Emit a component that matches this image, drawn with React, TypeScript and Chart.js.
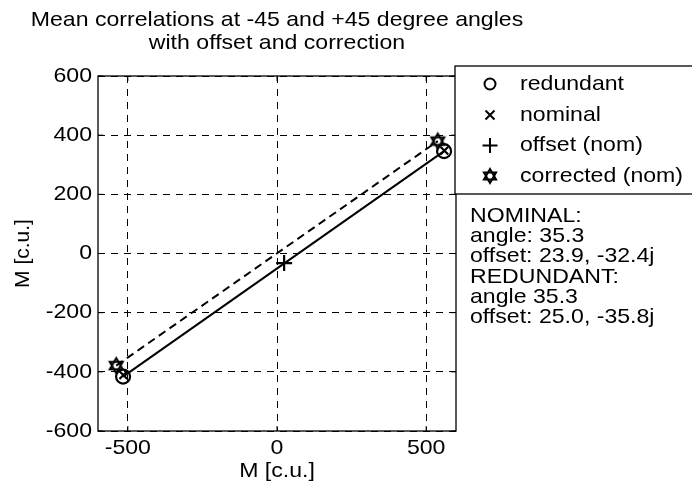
import React, { useEffect, useRef } from "react";
import { Chart, registerables } from "chart.js";
Chart.register(...registerables);

const xTicks = [-500, 0, 500];
const yTicks = [-600, -400, -200, 0, 200, 400, 600];
const xRange = [-600, 600];
const yRange = [-600, 600];

const redundantX = [-516, 560];
const redundantY = [-416, 346];
const nominalX = [-515, 561];
const nominalY = [-411, 348];
const offsetX = [23.9];
const offsetY = [-32.4];
const correctedX = [-539, 539];
const correctedY = [-379, 380];

const legendLabels = ["redundant", "nominal", "offset (nom)", "corrected (nom)"];
const titleLines = ["Mean correlations at -45 and +45 degree angles", "with offset and correction"];
const noteLines = [
  "NOMINAL:",
  "angle: 35.3",
  "offset: 23.9, -32.4j",
  "REDUNDANT:",
  "angle 35.3",
  "offset: 25.0, -35.8j",
];
const axisTitle = "M [c.u.]";

const FONT = '21px "Liberation Sans", Arial, sans-serif';
const SX = 1.1;

function hexPath(ctx: CanvasRenderingContext2D, cx: number, cy: number, r: number) {
  const tri = (start: number) => {
    ctx.beginPath();
    for (let i = 0; i < 3; i++) {
      const a = ((start + i * 120) * Math.PI) / 180;
      const px = cx + r * Math.cos(a);
      const py = cy + r * Math.sin(a);
      if (i === 0) ctx.moveTo(px, py);
      else ctx.lineTo(px, py);
    }
    ctx.closePath();
    ctx.stroke();
  };
  tri(-90);
  tri(90);
}

function makeHex(r: number, lw: number) {
  const c = document.createElement("canvas");
  const s = Math.ceil(2 * r + 2 * lw + 2);
  c.width = s;
  c.height = s;
  const g = c.getContext("2d")!;
  g.strokeStyle = "#000";
  g.lineWidth = lw;
  g.lineJoin = "miter";
  hexPath(g, s / 2, s / 2, r);
  return c;
}

function txt(ctx: CanvasRenderingContext2D, s: string, x: number, y: number, align: CanvasTextAlign) {
  ctx.save();
  ctx.translate(x, y);
  ctx.scale(SX, 1);
  ctx.textAlign = align;
  ctx.textBaseline = "middle";
  ctx.fillText(s, 0, 0);
  ctx.restore();
}

const decor = {
  id: "decor",
  afterDraw(chart: any) {
    const ctx: CanvasRenderingContext2D = chart.ctx;
    const ca = chart.chartArea;
    const xs = chart.scales.x;
    const ys = chart.scales.y;
    ctx.save();
    ctx.strokeStyle = "#000";
    ctx.fillStyle = "#000";
    ctx.setLineDash([]);
    ctx.lineWidth = 1.3;
    ctx.strokeRect(ca.left, ca.top, ca.right - ca.left, ca.bottom - ca.top);
    ctx.lineWidth = 1;
    ctx.beginPath();
    xTicks.forEach((v) => {
      const p = xs.getPixelForValue(v);
      ctx.moveTo(p, ca.bottom);
      ctx.lineTo(p, ca.bottom - 5);
      ctx.moveTo(p, ca.top);
      ctx.lineTo(p, ca.top + 5);
    });
    yTicks.forEach((v) => {
      const p = ys.getPixelForValue(v);
      ctx.moveTo(ca.left, p);
      ctx.lineTo(ca.left + 5, p);
      ctx.moveTo(ca.right, p);
      ctx.lineTo(ca.right - 5, p);
    });
    ctx.stroke();

    ctx.font = FONT;
    xTicks.forEach((v) => txt(ctx, String(v), xs.getPixelForValue(v), ca.bottom + 17, "center"));
    yTicks.forEach((v) => txt(ctx, String(v), ca.left - 6, ys.getPixelForValue(v), "right"));
    const cx = (ca.left + ca.right) / 2;
    txt(ctx, axisTitle, cx, ca.bottom + 40, "center");
    ctx.save();
    ctx.translate(23, (ca.top + ca.bottom) / 2);
    ctx.rotate(-Math.PI / 2);
    ctx.textAlign = "center";
    ctx.textBaseline = "middle";
    ctx.fillText(axisTitle, 0, 0);
    ctx.restore();

    txt(ctx, titleLines[0], cx, 20, "center");
    txt(ctx, titleLines[1], cx, 43, "center");

    // legend box
    const lx = 455, ly = 66, lb = 194;
    ctx.fillStyle = "#fff";
    ctx.fillRect(lx, ly, 692 - lx + 10, lb - ly);
    ctx.lineWidth = 1.3;
    ctx.strokeRect(lx, ly, 692 - lx + 10, lb - ly);
    ctx.fillStyle = "#000";
    const rows = [84, 115, 145.5, 176];
    const mx = 490;
    ctx.lineWidth = 2;
    ctx.beginPath();
    ctx.arc(mx, rows[0], 5.5, 0, Math.PI * 2);
    ctx.stroke();
    ctx.beginPath();
    ctx.moveTo(mx - 4.5, rows[1] - 4.5);
    ctx.lineTo(mx + 4.5, rows[1] + 4.5);
    ctx.moveTo(mx + 4.5, rows[1] - 4.5);
    ctx.lineTo(mx - 4.5, rows[1] + 4.5);
    ctx.stroke();
    ctx.beginPath();
    ctx.moveTo(mx - 7.5, rows[2]);
    ctx.lineTo(mx + 7.5, rows[2]);
    ctx.moveTo(mx, rows[2] - 7.5);
    ctx.lineTo(mx, rows[2] + 7.5);
    ctx.stroke();
    ctx.lineWidth = 2;
    hexPath(ctx, mx, rows[3], 7);
    legendLabels.forEach((l, i) => txt(ctx, l, 520, rows[i], "left"));

    noteLines.forEach((l, i) => txt(ctx, l, 470, 216 + i * 20.3, "left"));
    ctx.restore();
  },
};

export default function App() {
  const ref = useRef<HTMLCanvasElement>(null);
  useEffect(() => {
    const hex = makeHex(7.5, 2);
    const pts = (xs: number[], ys: number[]) => xs.map((x, i) => ({ x, y: ys[i] }));
    const chart = new Chart(ref.current!, {
      type: "scatter",
      data: {
        datasets: [
          {
            data: pts(redundantX, redundantY),
            showLine: true,
            borderColor: "#000",
            borderWidth: 2,
            pointStyle: "circle",
            pointRadius: 7,
            pointBorderWidth: 2.2,
            pointBackgroundColor: "rgba(0,0,0,0)",
            pointBorderColor: "#000",
          },
          {
            data: pts(nominalX, nominalY),
            showLine: false,
            pointStyle: "crossRot",
            pointRadius: 5.5,
            pointBorderWidth: 2.2,
            pointBorderColor: "#000",
          },
          {
            data: pts(offsetX, offsetY),
            showLine: false,
            pointStyle: "cross",
            pointRadius: 8,
            pointBorderWidth: 2.2,
            pointBorderColor: "#000",
          },
          {
            data: pts(correctedX, correctedY),
            showLine: true,
            borderColor: "#000",
            borderWidth: 2,
            borderDash: [8, 5],
            pointStyle: hex as any,
            pointRadius: 7,
          },
        ],
      },
      options: {
        responsive: false,
        animation: false,
        devicePixelRatio: 1,
        layout: { padding: { left: 98, right: 236, top: 76, bottom: 55 } },
        plugins: { legend: { display: false }, title: { display: false }, tooltip: { enabled: false } },
        scales: {
          x: {
            type: "linear",
            min: xRange[0],
            max: xRange[1],
            ticks: { display: false },
            grid: { color: "#000", lineWidth: 1, drawTicks: false },
            border: { display: false, dash: [7, 6] },
            afterFit: (s: any) => {
              s.height = 0;
            },
            afterBuildTicks: (s: any) => {
              s.ticks = xTicks.map((v) => ({ value: v }));
            },
          },
          y: {
            type: "linear",
            min: yRange[0],
            max: yRange[1],
            ticks: { display: false },
            grid: { color: "#000", lineWidth: 1, drawTicks: false },
            border: { display: false, dash: [7, 6] },
            afterFit: (s: any) => {
              s.width = 0;
            },
            afterBuildTicks: (s: any) => {
              s.ticks = yTicks.map((v) => ({ value: v }));
            },
          },
        },
      },
      plugins: [decor],
    });
    return () => chart.destroy();
  }, []);
  return (
    <canvas
      ref={ref}
      width={692}
      height={486}
      style={{ position: "fixed", left: 0, top: 0, width: 692, height: 486, background: "#fff" }}
    />
  );
}
